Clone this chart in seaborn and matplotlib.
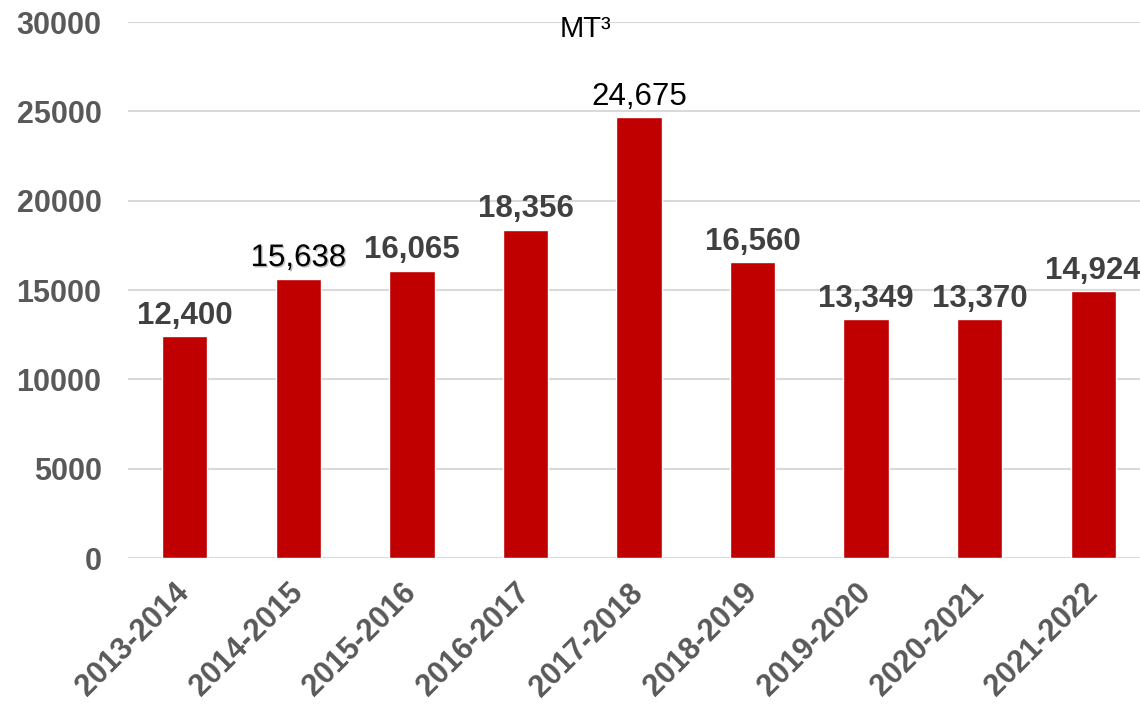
import matplotlib
matplotlib.use("Agg")
import matplotlib.pyplot as plt
import matplotlib.patheffects as pe
import seaborn as sns
import pandas as pd

# data
seasons = ["2013-2014", "2014-2015", "2015-2016", "2016-2017", "2017-2018",
           "2018-2019", "2019-2020", "2020-2021", "2021-2022"]
volumes = [12400, 15638, 16065, 18356, 24675, 16560, 13349, 13370, 14924]
# labels drawn in plain black in the original (the rest are bold grey)
plain_labels = ["2014-2015", "2017-2018"]
y_ticks = [0, 5000, 10000, 15000, 20000, 25000, 30000]

df = pd.DataFrame({"season": seasons, "volume": volumes})

sns.set_style("white")
plt.rcParams["font.family"] = ["Liberation Sans", "DejaVu Sans"]

fig = plt.figure(figsize=(11.4, 7.05), dpi=100)
ax = fig.add_axes([128 / 1140, 1 - 558 / 705, 1022 / 1140, 536 / 705])

sns.barplot(data=df, x="season", y="volume", color="#C00000", saturation=1,
            width=0.4, ax=ax, zorder=3)

ax.set_ylim(0, 30000)
ax.set_xlim(-0.5, 8.5)
ax.set_yticks(y_ticks)
ax.set_yticklabels([str(t) for t in y_ticks], fontsize=22, fontweight="bold",
                   color="#595959")
ax.yaxis.grid(True, color="#D9D9D9", linewidth=1.5, zorder=0)
ax.set_axisbelow(True)
for s in ax.spines.values():
    s.set_visible(False)
ax.tick_params(axis="both", length=0)
ax.tick_params(axis="y", pad=19)
ax.tick_params(axis="x", pad=22)
ax.set_xlabel("")
ax.set_ylabel("")
for lbl in ax.get_xticklabels():
    lbl.set_rotation(45)
    lbl.set_ha("right")
    lbl.set_va("center")
    lbl.set_rotation_mode("anchor")
    lbl.set_fontsize(22)
    lbl.set_fontweight("bold")
    lbl.set_color("#595959")

for i, (s, v) in enumerate(zip(seasons, volumes)):
    if s in plain_labels:
        t = ax.annotate(f"{v:,}", (i, v), xytext=(0, 4), textcoords="offset points",
                        ha="center", va="bottom", fontsize=22.5, color="black")
        if s == "2014-2015":
            t.set_path_effects([pe.withSimplePatchShadow(offset=(1, -1),
                                                         shadow_rgbFace="#999999",
                                                         alpha=0.6)])
    else:
        ax.annotate(f"{v:,}", (i, v), xytext=(0, 4), textcoords="offset points",
                    ha="center", va="bottom", fontsize=22.5, fontweight="bold",
                    color="#404040")

fig.text(585 / 1140, 1 - 37 / 705, "MT³", ha="center", va="baseline",
         fontsize=21, color="black")

fig.savefig("out.png", dpi=100)
